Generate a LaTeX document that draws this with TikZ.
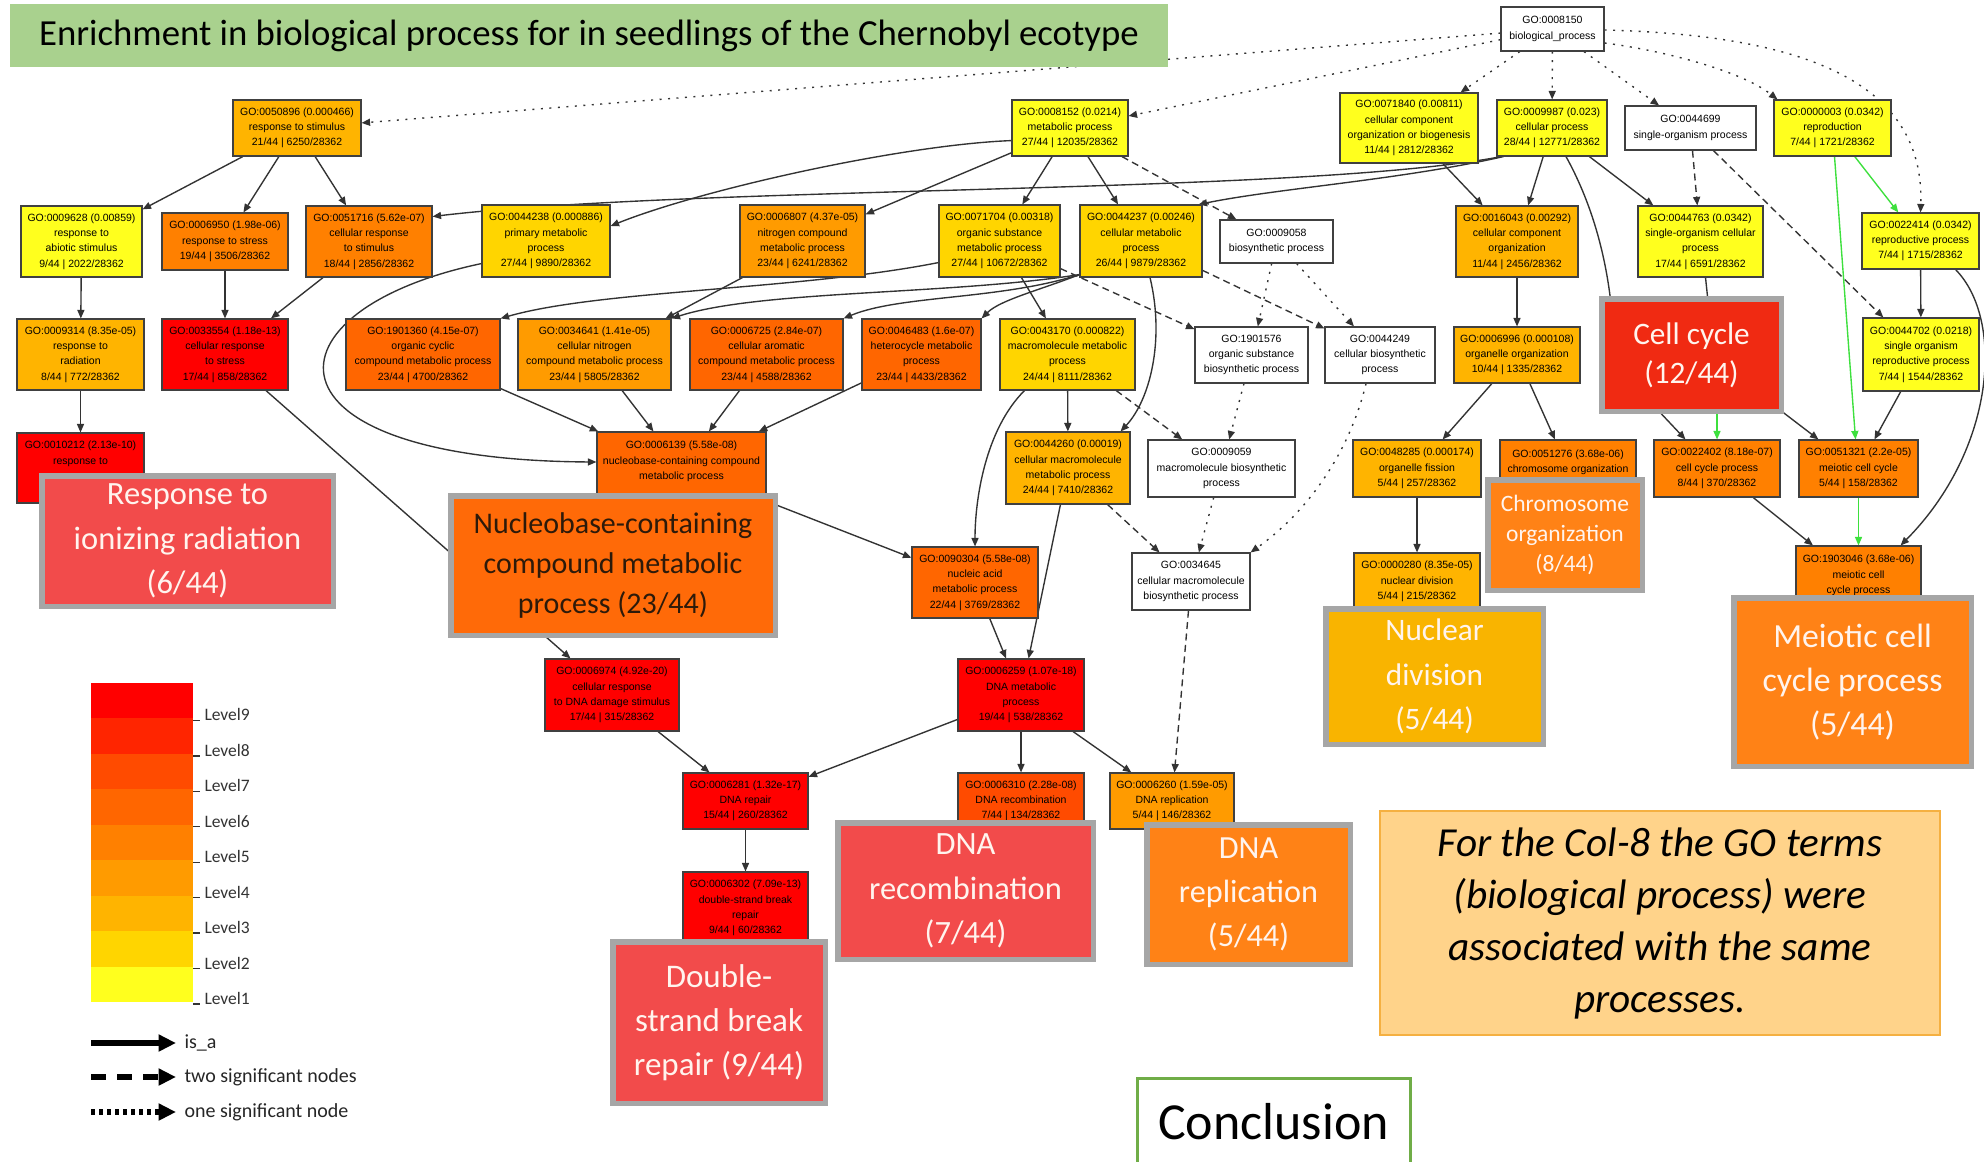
\documentclass[tikz,border=0pt]{standalone}
\usepackage{fontspec}
\setmainfont{Carlito}
\newfontfamily\gofont{Liberation Sans}
\usetikzlibrary{arrows.meta,calc}
\pgfdeclarelayer{paper}
\pgfdeclarelayer{bg}
\pgfsetlayers{paper,bg,main}
\definecolor{lvone}{HTML}{FFFF1E}
\definecolor{lvtwo}{HTML}{FFD500}
\definecolor{lvthree}{HTML}{FFB400}
\definecolor{lvfour}{HTML}{FF9B00}
\definecolor{lvfive}{HTML}{FF8000}
\definecolor{lvsix}{HTML}{FF6600}
\definecolor{lvseven}{HTML}{FF4B00}
\definecolor{lveight}{HTML}{FF2500}
\definecolor{lvnine}{HTML}{FF0000}
\definecolor{salmon}{HTML}{F24B4B}
\definecolor{ccred}{HTML}{F02A12}
\definecolor{nucorange}{HTML}{FF6A08}
\definecolor{bigorange}{HTML}{FF8216}
\definecolor{goldbox}{HTML}{F9B400}
\definecolor{boxgray}{HTML}{A6A6A6}
\definecolor{titlegreen}{HTML}{A9D18E}
\definecolor{notefill}{HTML}{FFD38A}
\definecolor{noteborder}{HTML}{F5B041}
\definecolor{concgreen}{HTML}{70AD47}
\definecolor{partof}{HTML}{3DE03D}
\definecolor{textwhite}{HTML}{FFF4EE}
\definecolor{nucltext}{HTML}{2D1A0A}
\tikzset{
  gobox/.style={draw=black!75, line width=0.45pt, inner sep=0pt, align=center,
    font=\gofont\fontsize{4.2}{6.1}\selectfont},
  bigbox/.style={draw=boxgray, line width=2.2pt, inner sep=0pt, align=center},
  isa/.style={draw=black!80, line width=0.55pt, -{Triangle[length=3.4pt,width=2.8pt]}},
  twosig/.style={isa, dash pattern=on 2.8pt off 1.8pt},
  onesig/.style={isa, dash pattern=on 0.8pt off 2.6pt},
  greenedge/.style={isa, draw=partof},
  plainline/.style={draw=black!80, line width=0.55pt},
  levtext/.style={font=\fontsize{7}{8}\selectfont, text=black!80, inner sep=0pt, anchor=west},
  legtext/.style={font=\fontsize{8}{9}\selectfont, text=black!85, inner sep=0pt, anchor=west},
}
\newcommand\GO[7]{\node[gobox,fill=#6,minimum width={(#4-#2)*0.4pt},minimum height={(#5-#3)*0.4pt}] (#1) at ({(#2+#4)/2},{(#3+#5)/2}) {#7};}
\newcommand\BB[9]{\node[bigbox,fill=#6,text=#7,font=#8,minimum width={(#4-#2)*0.4pt-2.2pt},minimum height={(#5-#3)*0.4pt-2.2pt}] (#1) at ({(#2+#4)/2},{(#3+#5)/2}) {#9};}
\begin{document}
\begin{tikzpicture}[x=0.4pt,y=-0.4pt]
\useasboundingbox (0,0) rectangle (1984,1161);
\begin{pgfonlayer}{paper}
\fill[white] (0,0) rectangle (1984,1161);
\end{pgfonlayer}

% ---------- GO nodes ----------
\GO{n8150}{1501}{7}{1604}{51}{white}{GO:0008150\\biological\_process}
\GO{n50896}{233}{100}{361}{156}{lvthree}{GO:0050896 (0.000466)\\response to stimulus\\21/44 | 6250/28362}
\GO{n8152}{1012}{100}{1128}{156}{lvone}{GO:0008152 (0.0214)\\metabolic process\\27/44 | 12035/28362}
\GO{n71840}{1340}{93}{1478}{163}{lvone}{GO:0071840 (0.00811)\\cellular component\\organization or biogenesis\\11/44 | 2812/28362}
\GO{n9987}{1497}{100}{1607}{156}{lvone}{GO:0009987 (0.023)\\cellular process\\28/44 | 12771/28362}
\GO{n44699}{1625}{106}{1756}{150}{white}{GO:0044699\\single-organism process}
\GO{n3}{1774}{100}{1891}{156}{lvone}{GO:0000003 (0.0342)\\reproduction\\7/44 | 1721/28362}
\GO{n9628}{21}{206}{142}{277}{lvone}{GO:0009628 (0.00859)\\response to\\abiotic stimulus\\9/44 | 2022/28362}
\GO{n6950}{162}{213}{288}{270}{lvfive}{GO:0006950 (1.98e-06)\\response to stress\\19/44 | 3506/28362}
\GO{n51716}{306}{206}{432}{277}{lvfive}{GO:0051716 (5.62e-07)\\cellular response\\to stimulus\\18/44 | 2856/28362}
\GO{n44238}{482}{205}{610}{277}{lvtwo}{GO:0044238 (0.000886)\\primary metabolic\\process\\27/44 | 9890/28362}
\GO{n6807}{740}{205}{865}{277}{lvfour}{GO:0006807 (4.37e-05)\\nitrogen compound\\metabolic process\\23/44 | 6241/28362}
\GO{n71704}{939}{205}{1060}{277}{lvtwo}{GO:0071704 (0.00318)\\organic substance\\metabolic process\\27/44 | 10672/28362}
\GO{n44237}{1080}{205}{1202}{277}{lvtwo}{GO:0044237 (0.00246)\\cellular metabolic\\process\\26/44 | 9879/28362}
\GO{n9058}{1220}{220}{1333}{263}{white}{GO:0009058\\biosynthetic process}
\GO{n16043}{1456}{206}{1578}{277}{lvthree}{GO:0016043 (0.00292)\\cellular component\\organization\\11/44 | 2456/28362}
\GO{n44763}{1638}{206}{1763}{277}{lvone}{GO:0044763 (0.0342)\\single-organism cellular\\process\\17/44 | 6591/28362}
\GO{n22414}{1862}{213}{1979}{269}{lvone}{GO:0022414 (0.0342)\\reproductive process\\7/44 | 1715/28362}
\GO{n9314}{17}{319}{144}{390}{lvthree}{GO:0009314 (8.35e-05)\\response to\\radiation\\8/44 | 772/28362}
\GO{n33554}{162}{319}{288}{390}{lvnine}{GO:0033554 (1.18e-13)\\cellular response\\to stress\\17/44 | 858/28362}
\GO{n1901360}{346}{319}{500}{390}{lvsix}{GO:1901360 (4.15e-07)\\organic cyclic\\compound metabolic process\\23/44 | 4700/28362}
\GO{n34641}{518}{319}{671}{390}{lvfour}{GO:0034641 (1.41e-05)\\cellular nitrogen\\compound metabolic process\\23/44 | 5805/28362}
\GO{n6725}{690}{319}{843}{390}{lvsix}{GO:0006725 (2.84e-07)\\cellular aromatic\\compound metabolic process\\23/44 | 4588/28362}
\GO{n46483}{862}{319}{981}{390}{lvsix}{GO:0046483 (1.6e-07)\\heterocycle metabolic\\process\\23/44 | 4433/28362}
\GO{n43170}{1000}{319}{1135}{390}{lvtwo}{GO:0043170 (0.000822)\\macromolecule metabolic\\process\\24/44 | 8111/28362}
\GO{n1901576}{1195}{327}{1308}{383}{white}{GO:1901576\\organic substance\\biosynthetic process}
\GO{n44249}{1325}{327}{1435}{383}{white}{GO:0044249\\cellular biosynthetic\\process}
\GO{n6996}{1454}{327}{1580}{383}{lvthree}{GO:0006996 (0.000108)\\organelle organization\\10/44 | 1335/28362}
\GO{n44702}{1863}{318}{1979}{391}{lvone}{GO:0044702 (0.0218)\\single organism\\reproductive process\\7/44 | 1544/28362}
\GO{n10212}{17}{433}{144}{503}{lvnine}{GO:0010212 (2.13e-10)\\response to\\~\\~}
\GO{n6139}{597}{432}{766}{504}{lvsix}{GO:0006139 (5.58e-08)\\nucleobase-containing compound\\metabolic process\\~}
\GO{n44260}{1006}{432}{1130}{504}{lvthree}{GO:0044260 (0.00019)\\cellular macromolecule\\metabolic process\\24/44 | 7410/28362}
\GO{n9059}{1148}{440}{1295}{497}{white}{GO:0009059\\macromolecule biosynthetic\\process}
\GO{n48285}{1353}{440}{1481}{497}{lvthree}{GO:0048285 (0.000174)\\organelle fission\\5/44 | 257/28362}
\GO{n51276}{1500}{440}{1636}{497}{lvfive}{GO:0051276 (3.68e-06)\\chromosome organization\\~}
\GO{n22402}{1654}{440}{1780}{497}{lvfive}{GO:0022402 (8.18e-07)\\cell cycle process\\8/44 | 370/28362}
\GO{n51321}{1799}{440}{1918}{497}{lvfive}{GO:0051321 (2.2e-05)\\meiotic cell cycle\\5/44 | 158/28362}
\GO{n90304}{912}{547}{1038}{618}{lvsix}{GO:0090304 (5.58e-08)\\nucleic acid\\metabolic process\\22/44 | 3769/28362}
\GO{n34645}{1132}{553}{1250}{610}{white}{GO:0034645\\cellular macromolecule\\biosynthetic process}
\GO{n280}{1354}{553}{1480}{610}{lvthree}{GO:0000280 (8.35e-05)\\nuclear division\\5/44 | 215/28362}
\GO{n1903046}{1796}{546}{1921}{618}{lvfive}{GO:1903046 (3.68e-06)\\meiotic cell\\cycle process\\~}
\GO{n6974}{545}{659}{679}{731}{lvnine}{GO:0006974 (4.92e-20)\\cellular response\\to DNA damage stimulus\\17/44 | 315/28362}
\GO{n6259}{958}{659}{1084}{731}{lvnine}{GO:0006259 (1.07e-18)\\DNA metabolic\\process\\19/44 | 538/28362}
\GO{n6281}{683}{773}{808}{829}{lvnine}{GO:0006281 (1.32e-17)\\DNA repair\\15/44 | 260/28362}
\GO{n6310}{958}{773}{1084}{829}{lvseven}{GO:0006310 (2.28e-08)\\DNA recombination\\7/44 | 134/28362}
\GO{n6260}{1110}{773}{1234}{829}{lvfour}{GO:0006260 (1.59e-05)\\DNA replication\\5/44 | 146/28362}
\GO{n6302}{683}{872}{808}{944}{lvnine}{GO:0006302 (7.09e-13)\\double-strand break\\repair\\9/44 | 60/28362}

% ---------- big label boxes ----------
\BB{resp}{39}{473}{336}{609}{salmon}{textwhite}{\fontsize{13}{17.7}\selectfont}{Response to\\ionizing radiation\\(6/44)}
\BB{nucl}{448}{493}{778}{638}{nucorange}{nucltext}{\fontsize{12}{16}\selectfont}{Nucleobase-containing\\compound metabolic\\process (23/44)}
\BB{cellcycle}{1599}{296}{1784}{414}{ccred}{textwhite}{\fontsize{12.5}{15.7}\selectfont}{Cell cycle\\(12/44)}
\BB{chrom}{1485}{477}{1645}{593}{bigorange}{textwhite}{\fontsize{9.4}{12}\selectfont}{Chromosome\\organization\\(8/44)}
\BB{nucdiv}{1323}{606}{1546}{747}{goldbox}{textwhite}{\fontsize{12.5}{17.7}\selectfont}{Nuclear\\division\\(5/44)}
\BB{meio}{1731}{595}{1974}{769}{bigorange}{textwhite}{\fontsize{13.5}{17.7}\selectfont}{Meiotic cell\\cycle process\\(5/44)}
\BB{dnarec}{835}{820}{1096}{962}{salmon}{textwhite}{\fontsize{13}{17.7}\selectfont}{DNA\\recombination\\(7/44)}
\BB{dnarep}{1144}{822}{1353}{967}{bigorange}{textwhite}{\fontsize{12.9}{17.7}\selectfont}{DNA\\replication\\(5/44)}
\BB{dsb}{610}{939}{828}{1106}{salmon}{textwhite}{\fontsize{13.2}{17.7}\selectfont}{Double-\\strand break\\repair (9/44)}

% ---------- title, note, conclusion ----------
\node[fill=titlegreen, inner sep=0pt, minimum width={1158*0.4pt}, minimum height={63*0.4pt},
  font=\fontsize{14.7}{17}\selectfont] (title) at (589,35.5)
  {Enrichment in biological process for in seedlings of the Chernobyl ecotype};
\node[fill=notefill, draw=noteborder, line width=0.8pt, inner sep=0pt, align=center,
  minimum width={560*0.4pt}, minimum height={224*0.4pt},
  font=\itshape\fontsize{16.5}{20.8}\selectfont] (note) at (1660,923)
  {For the Col-8 the GO terms\\(biological process) were\\associated with the same\\processes.};
\node[fill=white, draw=concgreen, line width=1.2pt, inner sep=0pt,
  minimum width={273*0.4pt}, minimum height={88*0.4pt},
  font=\fontsize{20.8}{24}\selectfont] (concl) at (1273.5,1122) {Conclusion};

% ---------- legend ----------
\foreach \c [count=\i from 0] in {lvnine,lveight,lvseven,lvsix,lvfive,lvfour,lvthree,lvtwo,lvone}{
  \fill[\c] (91,{683+35.44*\i}) rectangle (193,{683+35.44*(\i+1)+0.3});
}
\foreach \t [count=\i from 0] in {Level9,Level8,Level7,Level6,Level5,Level4,Level3,Level2,Level1}{
  \draw[black!80, line width=0.5pt] (193,{683+35.44*(\i+1)+2}) -- (200,{683+35.44*(\i+1)+2});
  \node[levtext] (lev\i) at (204,{683+35.44*(\i+1)-3.5}) {\t};
}
\coordinate (lgAs) at (91,1043); \coordinate (lgAe) at (176,1043);
\coordinate (lgBs) at (91,1077); \coordinate (lgBe) at (176,1077);
\coordinate (lgCs) at (91,1112); \coordinate (lgCe) at (176,1112);
\draw[black, line width=2.4pt, -{Triangle[length=7pt,width=6.5pt]}] (lgAs) -- (lgAe);
\draw[black, line width=2.4pt, dash pattern=on 6pt off 4.4pt, -{Triangle[length=7pt,width=6.5pt]}] (lgBs) -- (lgBe);
\draw[black, line width=2.4pt, dash pattern=on 1.6pt off 1.6pt, -{Triangle[length=7pt,width=6.5pt]}] (lgCs) -- (lgCe);
\node[legtext] (lgAt) at (184,1043) {is\_a};
\node[legtext] (lgBt) at (184,1077) {two significant nodes};
\node[legtext] (lgCt) at (184,1112) {one significant node};

% ---------- edges (background) ----------
\begin{pgfonlayer}{bg}
\draw[onesig] (n8150) -- (n50896);
\draw[onesig] (n8150) -- (n8152);
\draw[onesig] (n8150) -- (n71840);
\draw[onesig] (n8150) -- (n9987);
\draw[onesig] (n8150) -- (n44699);
\draw[onesig] ($(n8150.east)+(0,14)$) .. controls (1660,50) and (1740,70) .. ($(n3.north west)+(4,0)$);
\draw[onesig] ($(n8150.east)+(0,1)$) .. controls (1800,35) and (1925,80) .. (n22414.north);

\draw[isa] (n50896) -- (n9628);
\draw[isa] (n50896) -- (n6950);
\draw[isa] (n50896) -- (n51716);
\draw[isa] (n9628) -- (n9314);
\draw[isa] (n6950) -- (n33554);
\draw[isa] (n51716) -- (n33554);
\draw[isa] (n9314) -- (n10212);
\draw[isa] (n33554) -- (n6974);

\draw[isa] ($(n8152.south west)+(0,-16)$) .. controls (900,145) and (700,190) .. ($(n44238.east)+(0,-15)$);
\draw[isa] (n8152) -- (n6807);
\draw[isa] (n8152) -- (n71704);
\draw[isa] (n8152) -- (n44237);
\draw[twosig] (n8152) -- (n9058);
\draw[isa] ($(n9987.south west)+(5,0)$) .. controls (1300,195) and (700,185) .. ($(n51716.east)+(0,-25)$);
\draw[isa] ($(n9987.south west)+(7,0)$) .. controls (1400,180) and (1280,188) .. ($(n44237.north east)+(-4,0)$);
\draw[isa] ($(n44238.south west)+(0,-14)$) .. controls (260,310) and (250,460) .. ($(n6139.west)+(0,-6)$);
\draw[isa] ($(n71704.south west)+(0,-15)$) .. controls (800,290) and (600,290) .. (n1901360.north east);
\draw[isa] ($(n44237.south west)+(0,-3)$) .. controls (950,295) and (760,290) .. (n34641.north east);
\draw[isa] ($(n44237.south west)+(0,-3)$) .. controls (1000,300) and (900,295) .. (n6725.north east);
\draw[isa] ($(n44237.south west)+(0,-3)$) .. controls (1040,290) and (1000,300) .. (n46483.north east);
\draw[isa] ($(n6807.south west)+(3,0)$) -- ($(n34641.north east)+(-6,0)$);
\draw[isa] (n71704) -- (n43170);
\draw[twosig] (n71704) -- (n1901576);
\draw[twosig] (n44237) -- (n44249);
\draw[onesig] (n9058) -- (n1901576);
\draw[onesig] (n9058) -- (n44249);
\draw[isa] ($(n44237.south)+(9,0)$) .. controls (1165,340) and (1150,400) .. ($(n44260.north east)+(-10,0)$);
\draw[isa] (n43170) -- (n44260);
\draw[isa] ($(n43170.south west)+(25,0)$) .. controls (985,430) and (975,500) .. (n90304.north);
\draw[twosig] (n43170) -- (n9059);
\draw[onesig] (n1901576) -- (n9059);
\draw[twosig] (n44260) -- (n34645);
\draw[onesig] (n9059) -- (n34645);
\draw[onesig] ($(n44249.south)+(-14,0)$) .. controls (1350,450) and (1310,510) .. (n34645.north east);
\draw[twosig] (n34645) -- (n6260);
\draw[isa] (n6139) -- (n90304);
\draw[isa] (n44260) -- (n6259);
\draw[isa] (n90304) -- (n6259);
\draw[isa] (n6974) -- (n6281);
\draw[isa] (n6259) -- (n6281);
\draw[isa] (n6259) -- (n6310);
\draw[isa] (n6259) -- (n6260);
\draw[isa] (n6281) -- (n6302);
\draw[isa] (n1901360) -- (n6139);
\draw[isa] (n34641) -- (n6139);
\draw[isa] (n6725) -- (n6139);
\draw[isa] (n46483) -- (n6139);

\draw[isa] (n71840) -- (n16043);
\draw[isa] (n9987) -- (n16043);
\draw[plainline] ($(n9987.south)+(14,0)$) .. controls (1590,200) and (1605,250) .. ($(cellcycle.north west)+(12,8)$);
\draw[isa] (n9987) -- (n44763);
\draw[twosig] (n44699) -- (n44763);
\draw[twosig] (n44699) -- (n44702);
\draw[plainline] ($(n44763.south)+(5,0)$) -- ($(cellcycle.north)+(17,10)$);
\draw[greenedge] (n3) -- (n22414);
\draw[greenedge] ($(n3.south)+(2,0)$) -- ($(n51321.north)+(-3,0)$);
\draw[isa] (n22414) -- (n44702);
\draw[isa] ($(n22414.south east)+(-24,0)$) .. controls (2005,320) and (1995,450) .. ($(n1903046.north east)+(-21,0)$);
\draw[isa] (n16043) -- (n6996);
\draw[isa] (n6996) -- (n48285);
\draw[isa] (n6996) -- (n51276);
\draw[isa] (n48285) -- (n280);
\draw[isa] ($(cellcycle.south)+(-46,-17)$) -- ($(n22402.north west)+(32,0)$);
\draw[greenedge] ($(cellcycle.south)+(25.5,-14)$) -- (n22402.north);
\draw[isa] ($(cellcycle.south east)+(-25,-20)$) -- ($(n51321.north west)+(20,0)$);
\draw[isa] (n44702) -- (n51321);
\draw[isa] (n22402) -- (n1903046);
\draw[greenedge] (n51321) -- (n1903046);
\end{pgfonlayer}
\end{tikzpicture}
\end{document}
